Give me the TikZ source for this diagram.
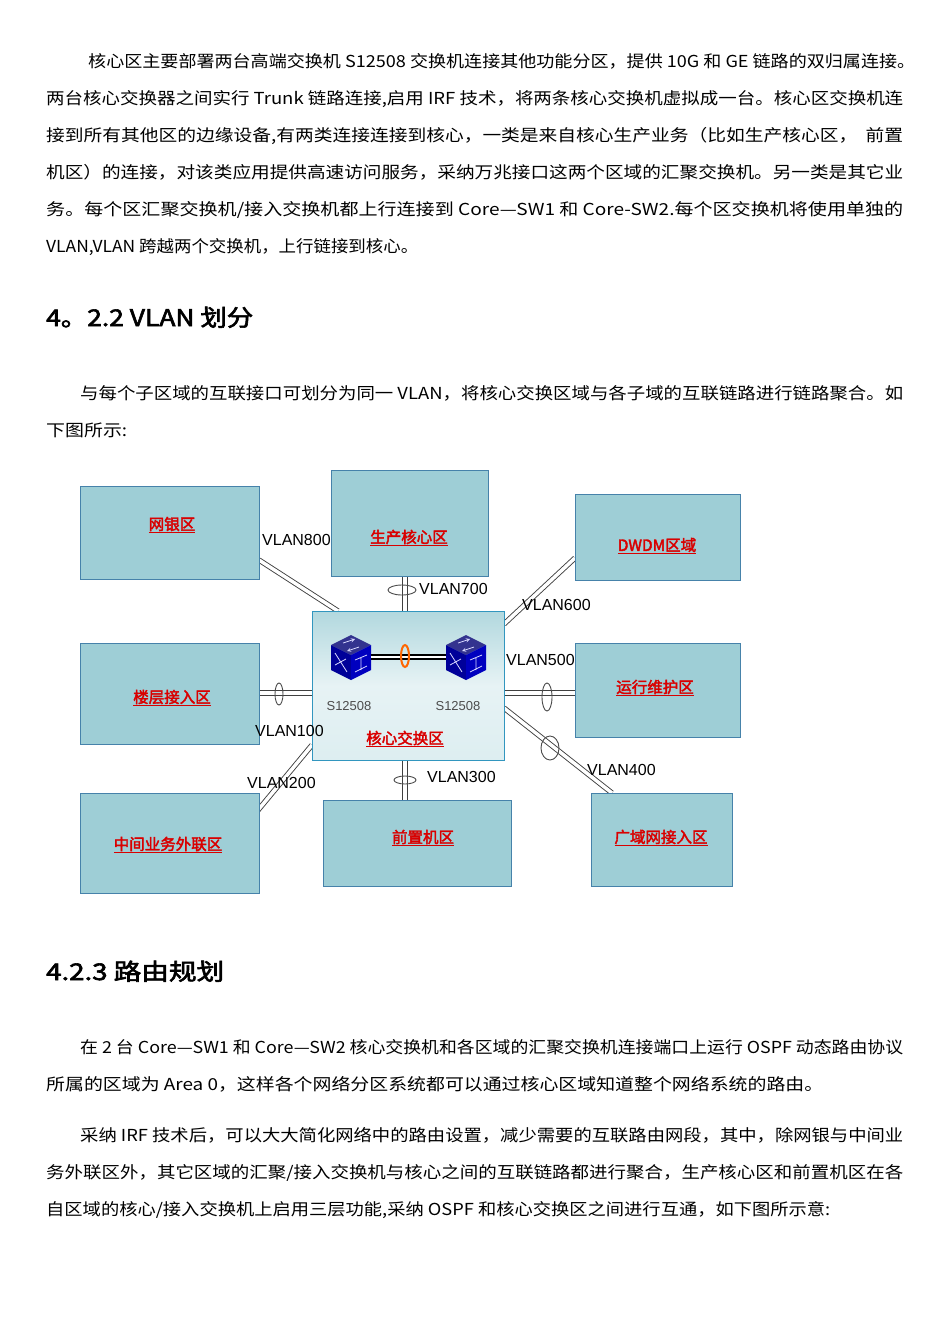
\documentclass[tikz,border=0pt]{standalone}
\usepackage{fontspec}
\usepackage{graphicx}
\usetikzlibrary{calc}
\setmainfont{Noto Sans CJK SC}[AutoFakeBold=2.5]
\newfontfamily\lib{Liberation Sans}
\newcommand{\fitw}[2]{\resizebox{#1pt}{\height}{#2}}
\definecolor{zfill}{RGB}{158,206,214}
\definecolor{zdraw}{RGB}{70,130,170}
\begin{document}
\begin{tikzpicture}[x=1pt,y=-1pt,
  body/.style={anchor=base west,inner sep=0,font=\fontsize{16.5}{16.5}\selectfont},
  zone/.style={draw=zdraw,fill=zfill,line width=0.8pt},
  zl/.style={font=\fontsize{15.5}{15.5}\selectfont\bfseries,text=red!85!black},
  vl/.style={font=\lib\fontsize{16}{16}\selectfont,inner sep=0,anchor=west},
  dl/.style={draw=black!75,double=white,double distance=3.5pt,line width=0.9pt},
  ring/.style={draw=black!70,line width=0.9pt}]
\useasboundingbox (0,0) rectangle (950,1344);
\fill[white] (0,0) rectangle (950,1344);
% paragraphs
\node[body] (p1) at (88,67) {\fitw{827}{核心区主要部署两台高端交换机 S12508 交换机连接其他功能分区，提供 10G 和 GE 链路的双归属连接。}};
\node[body] (p2) at (46,104) {\fitw{857}{两台核心交换器之间实行 Trunk 链路连接,启用 IRF 技术，将两条核心交换机虚拟成一台。核心区交换机连}};
\node[body] (p3) at (46,141) {\fitw{857}{接到所有其他区的边缘设备,有两类连接连接到核心，一类是来自核心生产业务（比如生产核心区，\ \ 前置}};
\node[body] (p4) at (46,178) {\fitw{857}{机区）的连接，对该类应用提供高速访问服务，采纳万兆接口这两个区域的汇聚交换机。另一类是其它业}};
\node[body] (p5) at (46,215) {\fitw{857}{务。每个区汇聚交换机/接入交换机都上行连接到 Core—SW1 和 Core-SW2.每个区交换机将使用单独的}};
\node[body] (p6) at (46,252) {\fitw{372}{VLAN,VLAN 跨越两个交换机，上行链接到核心。}};
\node[body,font=\fontsize{23}{23}\selectfont\bfseries] (h1) at (46,326) {\fitw{207}{4。2.2 VLAN 划分}};
\node[body] (p7) at (80,399) {\fitw{823}{与每个子区域的互联接口可划分为同一 VLAN，将核心交换区域与各子域的互联链路进行链路聚合。如}};
\node[body] (p8) at (46,436) {\fitw{81}{下图所示:}};
\node[body,font=\fontsize{23}{23}\selectfont\bfseries] (h2) at (46,980) {\fitw{178}{4.2.3 路由规划}};
\node[body] (p9) at (80,1053) {\fitw{823}{在 2 台 Core—SW1 和 Core—SW2 核心交换机和各区域的汇聚交换机连接端口上运行 OSPF 动态路由协议}};
\node[body] (p10) at (46,1090) {\fitw{777}{所属的区域为 Area 0，这样各个网络分区系统都可以通过核心区域知道整个网络系统的路由。}};
\node[body] (p11) at (80,1141) {\fitw{823}{采纳 IRF 技术后，可以大大简化网络中的路由设置，减少需要的互联路由网段，其中，除网银与中间业}};
\node[body] (p12) at (46,1178) {\fitw{857}{务外联区外，其它区域的汇聚/接入交换机与核心之间的互联链路都进行聚合，生产核心区和前置机区在各}};
\node[body] (p13) at (46,1215) {\fitw{784}{自区域的核心/接入交换机上启用三层功能,采纳 OSPF 和核心交换区之间进行互通，如下图所示意:}};
% links
\coordinate (a1) at (259,560); \coordinate (a2) at (338,611);
\draw[dl] (a1) -- (a2);
\draw[dl] (405,576) -- (405,611);
\draw[ring] (402,590) ellipse (14 and 5);
\draw[dl] (575,558) -- (504,624);
\draw[dl] (504,693) -- (575,693);
\draw[ring] (547,697) ellipse (5 and 14);
\draw[dl] (504,708) -- (612,793);
\draw[ring] (550,748) ellipse (9 and 12);
\draw[dl] (405,760) -- (405,800);
\draw[ring] (405,780) ellipse (11 and 4);
\draw[dl] (259,693) -- (312,693);
\draw[ring] (279,694) ellipse (4 and 11);
\draw[dl] (312,745) -- (254,815);
% zones
\node[zone,minimum width=179,minimum height=93,anchor=north west] (wy) at (80,486) {};
\node[zl] at (172,525) {\underline{网银区}};
\node[zone,minimum width=157,minimum height=106,anchor=north west] (sc) at (331,470) {};
\node[zl] at (409,538) {\underline{生产核心区}};
\node[zone,minimum width=165,minimum height=86,anchor=north west] (dw) at (575,494) {};
\node[zl] at (657,546) {\underline{DWDM区域}};
\node[zone,minimum width=179,minimum height=101,anchor=north west] (lc) at (80,643) {};
\node[zl] at (172,698) {\underline{楼层接入区}};
\node[zone,minimum width=165,minimum height=94,anchor=north west] (yx) at (575,643) {};
\node[zl] at (655,688) {\underline{运行维护区}};
\node[zone,minimum width=179,minimum height=100,anchor=north west] (zj) at (80,793) {};
\node[zl] at (168,845) {\underline{中间业务外联区}};
\node[zone,minimum width=188,minimum height=86,anchor=north west] (qz) at (323,800) {};
\node[zl] at (423,838) {\underline{前置机区}};
\node[zone,minimum width=141,minimum height=93,anchor=north west] (gy) at (591,793) {};
\node[zl] at (661,838) {\underline{广域网接入区}};
% core
\shade[top color=zfill!80!white,bottom color=zfill!35!white,middle color=zfill!25!white] (312,611) rectangle (504,760);
\node[draw=cyan!50!teal,line width=0.8pt,minimum width=192,minimum height=149,anchor=north west] (core) at (312,611) {};
% switches
\foreach \cx/\nm in {351/swa,466/swb}{
  \fill[blue!45!black!80!white] (\cx,635) -- (\cx+20,645) -- (\cx,655) -- (\cx-20,645) -- cycle;
  \fill[blue!60!black] (\cx-20,645) -- (\cx,655) -- (\cx,680) -- (\cx-20,670) -- cycle;
  \fill[blue!75!black] (\cx+20,645) -- (\cx,655) -- (\cx,680) -- (\cx+20,670) -- cycle;
  \draw[white!85!blue,line width=0.8pt,->,>=stealth] (\cx-8,643)--(\cx+4,639);
  \draw[white!85!blue,line width=0.8pt,->,>=stealth] (\cx+8,647)--(\cx-4,651);
  \draw[white!85!blue,line width=0.8pt] (\cx-16,653)--(\cx-4,672) (\cx-16,665)--(\cx-5,659) (\cx+4,660)--(\cx+16,655) (\cx+4,672)--(\cx+16,666) (\cx+10,658)--(\cx+10,670);
  \coordinate (\nm) at (\cx,657);
}
\draw[black,line width=2.2pt,double=white,double distance=2pt] ($(swa)+(20,0)$) -- ($(swb)+(-20,0)$);
\draw[orange!80!red,line width=2pt] (405,656) ellipse (4 and 11);
\node[font=\lib\fontsize{13}{13}\selectfont,text=black!70] at (349,706) {S12508};
\node[font=\lib\fontsize{13}{13}\selectfont,text=black!70] at (458,706) {S12508};
\node[zl] at (405,739) {\underline{核心交换区}};
% vlan labels
\node[vl] at (262,540) {VLAN800};
\node[vl] at (419,589) {VLAN700};
\node[vl] at (522,605) {VLAN600};
\node[vl] at (506,660) {VLAN500};
\node[vl] at (587,770) {VLAN400};
\node[vl] at (427,777) {VLAN300};
\node[vl] at (247,783) {VLAN200};
\node[vl] at (255,731) {VLAN100};
\end{tikzpicture}
\end{document}
